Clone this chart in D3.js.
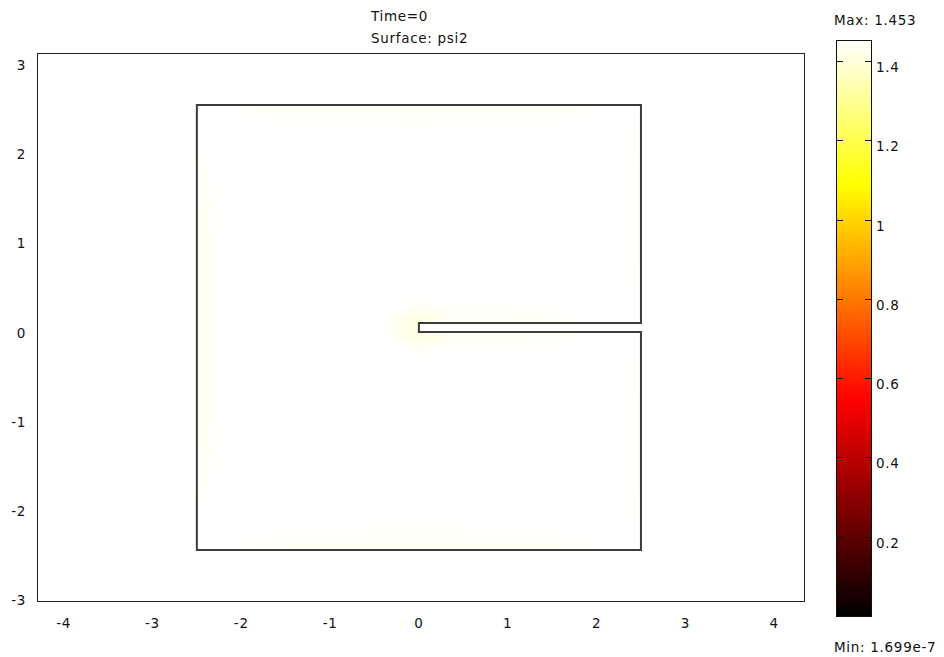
<!DOCTYPE html>
<html>
<head>
<meta charset="utf-8">
<script src="https://cdn.jsdelivr.net/npm/d3@7"></script>
<style>
    body { margin: 0; background: #fff; }
    svg text { font-family: "DejaVu Sans", Verdana, sans-serif; font-size: 13.5px; letter-spacing: 0.7px; fill: #111; }
</style>
</head>
<body>
<svg id="chart" width="944" height="657"></svg>
<script>
// Plot texts
var titleLines = ["Time=0", "Surface: psi2"];
var xTicks = [-4, -3, -2, -1, 0, 1, 2, 3, 4];
var yTicks = [-3, -2, -1, 0, 1, 2, 3];

// Colour range of psi2
var psiMin = 1.699e-7,
    psiMax = 1.453;
var barTicks = [0.2, 0.4, 0.6, 0.8, 1, 1.2, 1.4];

// Geometry: square with a thin slit from the centre to the right edge
var boundaryX = [-2.5, 2.5, 2.5, 0, 0, 2.5, 2.5, -2.5];
var boundaryY = [-2.5, -2.5, -0.05, -0.05, 0.05, 0.05, 2.5, 2.5];

// Surface values: the field is at max almost everywhere,
// slightly lower near the edges and round the slit tip
var fieldBase = 1.453;
var spotX = [0, 0, -2.5, 2.5, 2.5, 0.7, 0];
var spotY = [2.5, -2.5, 0, 1.3, -1.3, 0, 0];
var spotRx = [2.0, 2.0, 0.2, 0.12, 0.12, 1.1, 0.22];
var spotRy = [0.22, 0.22, 2.0, 1.0, 1.0, 0.2, 0.22];
var spotValue = [1.44, 1.44, 1.44, 1.445, 1.445, 1.435, 1.415];

function drawChart() {
    var svg = d3.select("#chart");

    // Axes scales (equal aspect)
    var x = d3.scaleLinear().domain([-4.3, 4.347]).range([37, 805]);
    var y = d3.scaleLinear().domain([-3.084, 3.084]).range([602, 53]);

    // "hot" colour map
    var colour = d3.scaleLinear()
        .domain([0, 0.375 * psiMax, 0.75 * psiMax, psiMax])
        .range(["#000000", "#ff0000", "#ffff00", "#ffffff"])
        .clamp(true);

    var defs = svg.append("defs");
    defs.append("filter")
        .attr("id", "soft")
        .attr("x", "-50%").attr("y", "-50%")
        .attr("width", "200%").attr("height", "200%")
        .append("feGaussianBlur")
        .attr("stdDeviation", 7);

    var points = boundaryX.map(function (d, i) {
        return [x(d), y(boundaryY[i])];
    });
    var line = d3.line().curve(d3.curveLinearClosed);

    defs.append("clipPath")
        .attr("id", "domain-clip")
        .append("path")
        .attr("d", line(points));

    // Title
    svg.selectAll(".title")
        .data(titleLines)
        .enter().append("text")
        .attr("class", "title")
        .attr("x", 371)
        .attr("y", function (d, i) { return 21 + i * 22; })
        .text(function (d) { return d; });

    // Frame
    svg.append("rect")
        .attr("x", 37.5)
        .attr("y", 53.5)
        .attr("width", 767)
        .attr("height", 548)
        .attr("fill", "none")
        .attr("stroke", "#222")
        .attr("stroke-width", 1);

    // Surface
    var surface = svg.append("g").attr("clip-path", "url(#domain-clip)");
    surface.append("path")
        .attr("d", line(points))
        .attr("fill", colour(fieldBase));

    surface.append("g")
        .attr("filter", "url(#soft)")
        .selectAll("ellipse")
        .data(spotValue)
        .enter().append("ellipse")
        .attr("cx", function (d, i) { return x(spotX[i]); })
        .attr("cy", function (d, i) { return y(spotY[i]); })
        .attr("rx", function (d, i) { return x(spotRx[i]) - x(0); })
        .attr("ry", function (d, i) { return y(0) - y(spotRy[i]); })
        .attr("fill", function (d) { return colour(d); });

    // Boundary
    svg.append("path")
        .attr("d", line(points))
        .attr("fill", "none")
        .attr("stroke", "#3c3c3c")
        .attr("stroke-width", 2)
        .attr("stroke-linejoin", "miter");

    // Axis labels (no tick marks)
    svg.selectAll(".xlab")
        .data(xTicks)
        .enter().append("text")
        .attr("class", "xlab")
        .attr("x", function (d) { return x(d); })
        .attr("y", 628)
        .style("text-anchor", "middle")
        .text(function (d) { return d; });

    svg.selectAll(".ylab")
        .data(yTicks)
        .enter().append("text")
        .attr("class", "ylab")
        .attr("x", 26)
        .attr("y", function (d) { return y(d) + 10; })
        .style("text-anchor", "end")
        .text(function (d) { return d; });

    // Colour bar
    var barLeft = 836,
        barRight = 872;
    var c = d3.scaleLinear().domain([0, psiMax]).range([616, 40]);

    var steps = d3.range(0, 288);
    svg.append("g")
        .selectAll("rect")
        .data(steps)
        .enter().append("rect")
        .attr("x", barLeft)
        .attr("width", barRight - barLeft)
        .attr("y", function (d) { return c(psiMax * (d + 1) / steps.length); })
        .attr("height", function (d) {
            return c(psiMax * d / steps.length) - c(psiMax * (d + 1) / steps.length) + 0.6;
        })
        .attr("fill", function (d) { return colour(psiMax * (d + 0.5) / steps.length); });

    svg.append("rect")
        .attr("x", barLeft + 0.5)
        .attr("y", 40.5)
        .attr("width", barRight - barLeft - 1)
        .attr("height", 576)
        .attr("fill", "none")
        .attr("stroke", "#111")
        .attr("stroke-width", 1);

    var tick = svg.append("g").selectAll(".bartick")
        .data(barTicks)
        .enter().append("g")
        .attr("class", "bartick")
        .attr("transform", function (d) { return "translate(0," + (Math.round(c(d)) + 0.5) + ")"; });

    tick.append("line")
        .attr("x1", barLeft).attr("x2", barLeft + 7)
        .attr("stroke", "#111");
    tick.append("line")
        .attr("x1", barRight - 7).attr("x2", barRight)
        .attr("stroke", "#111");
    tick.append("text")
        .attr("x", barRight + 4)
        .attr("y", 10)
        .text(function (d) { return d; });

    svg.append("text")
        .attr("x", 834)
        .attr("y", 25)
        .text("Max: " + psiMax);

    svg.append("text")
        .attr("x", 834)
        .attr("y", 652)
        .text("Min: " + psiMin.toExponential(3));
}

drawChart();
</script>
</body>
</html>
